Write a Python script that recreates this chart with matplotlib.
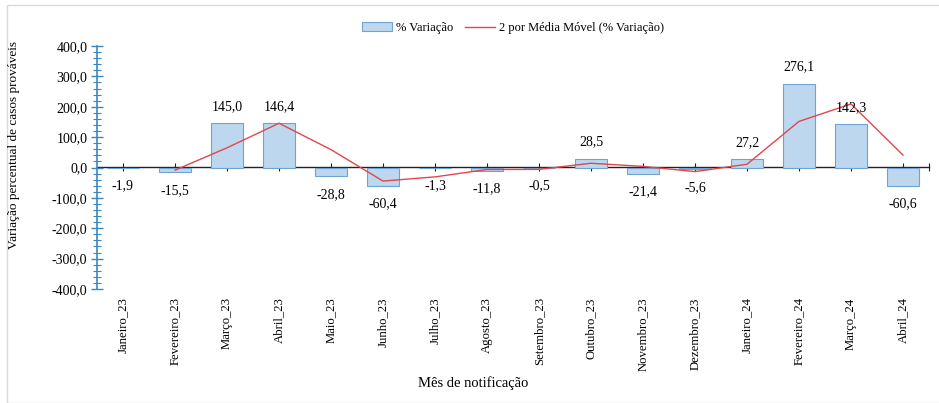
import matplotlib
matplotlib.use("Agg")
import numpy as np
import matplotlib.pyplot as plt
import matplotlib.patches as patches
from matplotlib.ticker import MultipleLocator, FixedLocator, NullFormatter

months = ["Janeiro_23", "Fevereiro_23", "Março_23", "Abril_23", "Maio_23", "Junho_23",
          "Julho_23", "Agosto_23", "Setembro_23", "Outubro_23", "Novembro_23", "Dezembro_23",
          "Janeiro_24", "Fevereiro_24", "Março_24", "Abril_24"]
variacao = [-1.9, -15.5, 145.0, 146.4, -28.8, -60.4, -1.3, -11.8, -0.5, 28.5,
            -21.4, -5.6, 27.2, 276.1, 142.3, -60.6]
media_movel = [np.nan, -8.7, 64.8, 145.7, 58.8, -44.6, -30.9, -6.6, -6.2, 14.0,
               3.6, -13.5, 10.8, 151.7, 209.2, 40.9]

SERIF = "Liberation Serif"
AX_BLUE = "#3A87C2"
BAR_FC = "#BDD7EE"
BAR_EC = "#6FA3D4"
LINE_C = "#E0474C"

fig = plt.figure(figsize=(9.39, 4.03), dpi=100)
fig.patches.append(patches.Rectangle((7 / 939, 0), 1, 1 - 5 / 403, transform=fig.transFigure,
                                     fill=False, ec="#D9D9D9", lw=1.0))
ax = fig.add_axes([97 / 939, 1 - 289 / 403, (929 - 97) / 939, (289 - 46) / 403])

x = np.arange(len(months))
bars = ax.bar(x, variacao, width=0.62, color=BAR_FC, edgecolor=BAR_EC, lw=0.8, zorder=2,
              label="% Variação")
line, = ax.plot(x, media_movel, color=LINE_C, lw=1.0, zorder=3,
                label="2 por Média Móvel (% Variação)")

# rótulos de dados: acima das barras positivas, abaixo das negativas
for xi, v in zip(x, variacao):
    txt = f"{v:.1f}".replace(".", ",")
    off = 12 if v >= 0 else -13
    ax.annotate(txt, (xi, v), xytext=(0, off), textcoords="offset points",
                ha="center", va="center", fontsize=10, family=SERIF)

ax.set_xlim(-0.5, 15.5)
ax.set_ylim(-400, 400)

for s in ["top", "right", "bottom"]:
    ax.spines[s].set_visible(False)
ax.spines["left"].set_color(AX_BLUE)
ax.spines["left"].set_linewidth(1.2)
ax.yaxis.set_major_locator(MultipleLocator(100))
ax.yaxis.set_minor_locator(MultipleLocator(20))
ax.tick_params(axis="y", which="major", direction="inout", length=8, color=AX_BLUE, width=1.0,
               labelsize=10, pad=3)
ax.tick_params(axis="y", which="minor", direction="inout", length=6, color=AX_BLUE, width=0.8)
ax.set_yticklabels([f"{v:.1f}".replace(".", ",") for v in ax.get_yticks()], family=SERIF)

ax.set_xticks(x)
ax.set_xticklabels(months, rotation=90, family=SERIF, fontsize=9.2)
ax.tick_params(axis="x", length=0, pad=6)

# eixo horizontal no zero
zero_ax = ax.secondary_xaxis(0.5)
for s in zero_ax.spines.values():
    s.set_color("#222222")
    s.set_linewidth(1.0)
zero_ax.xaxis.set_major_locator(FixedLocator(list(x) + [15.5]))
zero_ax.xaxis.set_major_formatter(NullFormatter())
zero_ax.tick_params(axis="x", direction="inout", length=6, width=0.8, color="#222222")

fig.text(14 / 939, 1 - 145 / 403, "Variação percentual de casos prováveis", rotation=90,
         ha="center", va="center", family=SERIF, fontsize=9.5)
fig.text(473 / 939, 1 - 383 / 403, "Mês de notificação", ha="center", va="center",
         family=SERIF, fontsize=10.5)

fig.legend([bars, line], ["% Variação", "2 por Média Móvel (% Variação)"],
           loc="center", bbox_to_anchor=(513 / 939, 1 - 28 / 403), ncol=2, frameon=False,
           prop={"family": SERIF, "size": 9}, handlelength=2.4, columnspacing=1.0,
           handletextpad=0.3)

fig.savefig("out.png", dpi=100)
